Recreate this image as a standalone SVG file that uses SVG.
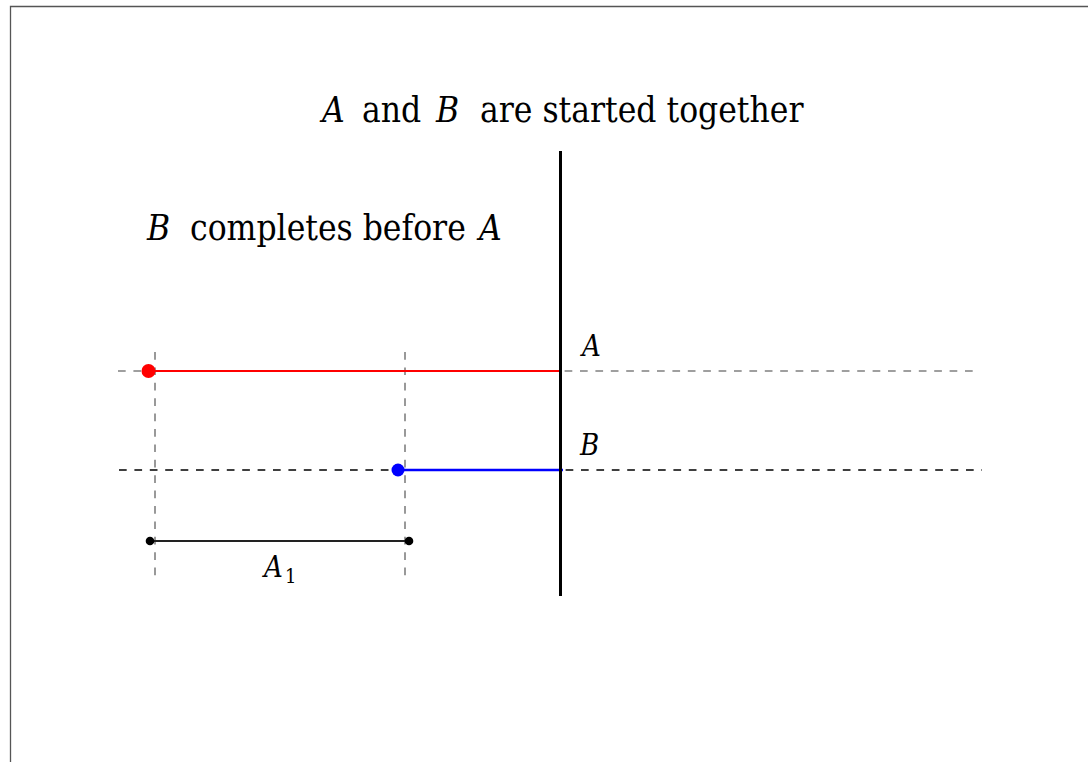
<svg xmlns="http://www.w3.org/2000/svg" width="1088" height="762" viewBox="0 0 1088 762">
<style>
text{font-family:"DejaVu Serif Condensed","DejaVu Serif","Liberation Serif",serif;font-stretch:condensed;fill:#000}
.it{font-style:italic}
.title{font-size:35px}
.lbl{font-size:29px}
.gdash{stroke:#808080;stroke-width:1.6;stroke-dasharray:7.7 7.7;fill:none}
.kdash{stroke:#000;stroke-width:1.5;stroke-dasharray:7.7 7.7;fill:none}
</style>
<rect x="0" y="0" width="1088" height="762" fill="#fff"/>
<path d="M10.5 762 V6.5 H1088" fill="none" stroke="#555" stroke-width="1.3"/>
<g id="title-top">
<text class="title it" x="322" y="122">A</text>
<text class="title" x="362" y="122">and</text>
<text class="title it" x="436" y="122">B</text>
<text class="title" x="480" y="122">are started together</text>
</g>
<g id="title-left">
<text class="title it" x="147" y="240">B</text>
<text class="title" x="190" y="240">completes before</text>
<text class="title it" x="479" y="240">A</text>
</g>
<g id="connectors">
<line class="gdash" x1="118" y1="371" x2="980" y2="371"/>
<line class="kdash" x1="119" y1="470" x2="982" y2="470"/>
<line class="gdash" x1="155" y1="352" x2="155" y2="580"/>
<line class="gdash" x1="405" y1="352" x2="405" y2="580"/>
<line x1="148" y1="371" x2="560" y2="371" stroke="#f00" stroke-width="2"/>
<line x1="398" y1="470" x2="563" y2="470" stroke="#00f" stroke-width="2.4"/>
<line x1="150" y1="541" x2="409" y2="541" stroke="#222" stroke-width="1.8"/>
<line x1="560.5" y1="151" x2="560.5" y2="596" stroke="#000" stroke-width="3"/>
</g>
<g id="nodeA-start"><circle cx="148.5" cy="371" r="7" fill="#f00"/></g>
<g id="nodeB-start"><circle cx="398" cy="470" r="6.5" fill="#00f"/></g>
<g id="interval-start"><circle cx="150" cy="541" r="4.3" fill="#000"/></g>
<g id="interval-end"><circle cx="409" cy="541" r="4.3" fill="#000"/></g>
<g id="labelA"><text class="lbl it" x="582" y="356">A</text></g>
<g id="labelB"><text class="lbl it" x="580" y="455">B</text></g>
<g id="labelA1"><text class="lbl it" x="264" y="577">A</text><text x="285" y="583" font-size="20">1</text></g>
</svg>
